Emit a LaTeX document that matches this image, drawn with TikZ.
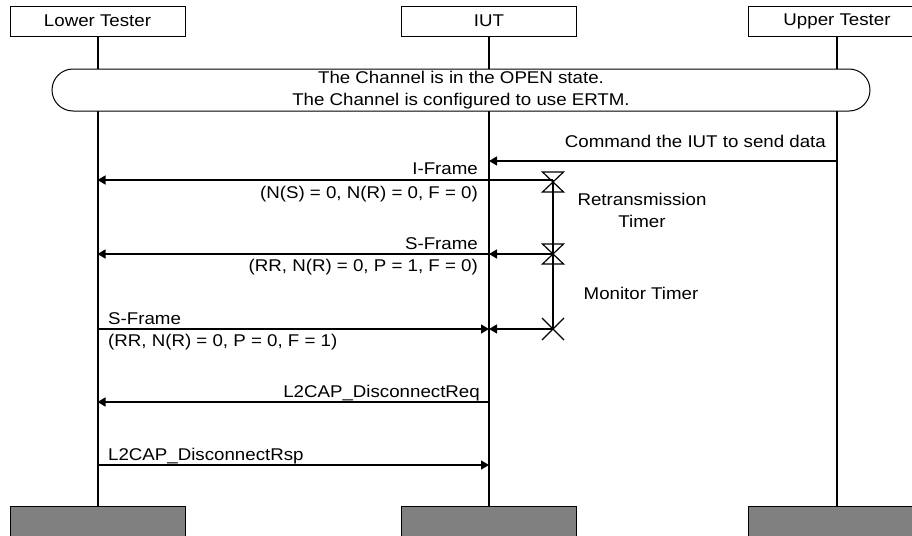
\documentclass[tikz,border=0pt]{standalone}
\usepackage{fontspec}
\setmainfont{Liberation Sans}[FakeStretch=1.1]
\usetikzlibrary{arrows.meta,positioning}
\definecolor{ftGray}{HTML}{808080}

\begin{document}
\begin{tikzpicture}[x=1pt,y=-1pt,font=\fontsize{17}{22}\selectfont,
          head/.style={draw,line width=0.8pt,minimum width=175pt,minimum height=30pt,inner sep=0},
          foot/.style={draw,fill=ftGray,line width=0.8pt,minimum width=175pt,minimum height=30pt,inner sep=0},
          life/.style={line width=2pt},
          msg/.style={-{Triangle[length=8pt,width=9pt]},line width=1.4pt},
          tmr/.style={line width=1.2pt},
          lbl/.style={inner sep=0}]
        \useasboundingbox (0,0) rectangle (912,535);

        % instances
        \node[head] (lt) at (97.5,21) {Lower Tester};
        \node[head] (iut) at (489,21) {IUT};
        \node[head,minimum width=178pt] (ut) at (837,21) {Upper Tester};
        \node[foot] (ltf) at (97.5,521) {};
        \node[foot] (iutf) at (489,521) {};
        \node[foot,minimum width=178pt] (utf) at (837,521) {};

        \draw[life] (lt.south) -- (ltf.north);
        \draw[life] (iut.south) -- (iutf.north);
        \draw[life] (ut.south) -- (utf.north);

        \node[draw,fill=white,line width=1pt,rounded corners=21pt,minimum width=818pt,
              minimum height=42pt,align=center,inner sep=0] (open) at (461,90)
              {The Channel is in the OPEN state.\\The Channel is configured to use ERTM.};

        % points on the lifelines
        \coordinate (ut1) at (837,161);   \coordinate (iut1) at (489,161);
        \coordinate (tm1) at (553,180);   \coordinate (lt2) at (97.5,180);
        \coordinate (tm2) at (553,254);   \coordinate (iut3) at (489,254);
        \coordinate (lt3) at (97.5,254);
        \coordinate (tm3) at (553,329);   \coordinate (iut4) at (489,329);
        \coordinate (lt4) at (97.5,329);
        \coordinate (iut5) at (489,402);  \coordinate (lt5) at (97.5,402);
        \coordinate (iut6) at (489,465);  \coordinate (lt6) at (97.5,465);

        % messages
        \draw[msg] (ut1) -- (iut1);
        \node[lbl,anchor=base east] (cmd) at (826,147) {Command the IUT to send data};

        \draw[msg] (tm1) -- (lt2);
        \node[lbl,anchor=base east] (if1) at (478,174) {I-Frame};
        \node[lbl,anchor=base east] (if2) at (478,198) {(N(S) = 0, N(R) = 0, F = 0)};

        \draw[msg] (tm2) -- (iut3);
        \draw[msg] (iut3) -- (lt3);
        \node[lbl,anchor=base east] (sf1) at (478,249) {S-Frame};
        \node[lbl,anchor=base east] (sf2) at (478,271) {(RR, N(R) = 0, P = 1, F = 0)};

        \draw[msg] (tm3) -- (iut4);
        \draw[msg] (lt4) -- (iut4);
        \node[lbl,anchor=base west] (sf3) at (108,324) {S-Frame};
        \node[lbl,anchor=base west] (sf4) at (108,346) {(RR, N(R) = 0, P = 0, F = 1)};

        \draw[msg] (iut5) -- (lt5);
        \node[lbl,anchor=base east] (dreq) at (480,397) {L2CAP\_DisconnectReq};
        \draw[msg] (lt6) -- (iut6);
        \node[lbl,anchor=base west] (drsp) at (108,460) {L2CAP\_DisconnectRsp};

        % timers
        \draw[tmr] (tm1) -- (tm3);
        \draw[tmr] ([shift={(-10.5,-8)}]tm1) -- ++(21,0) -- ++(-21,20) -- ++(21,0) -- cycle;
        \draw[tmr] ([shift={(-10.5,-10)}]tm2) -- ++(21,0) -- ++(-21,20) -- ++(21,0) -- cycle;
        \draw[tmr] ([shift={(-11,-11)}]tm3) -- ++(22,22) ([shift={(11,-11)}]tm3) -- ++(-22,22);
        \node[lbl,anchor=base] (rtx1) at (642,205) {Retransmission};
        \node[lbl,anchor=base] (rtx2) at (642,227) {Timer};
        \node[lbl,anchor=base] (mon) at (641,299) {Monitor Timer};
      \end{tikzpicture}
\end{document}
